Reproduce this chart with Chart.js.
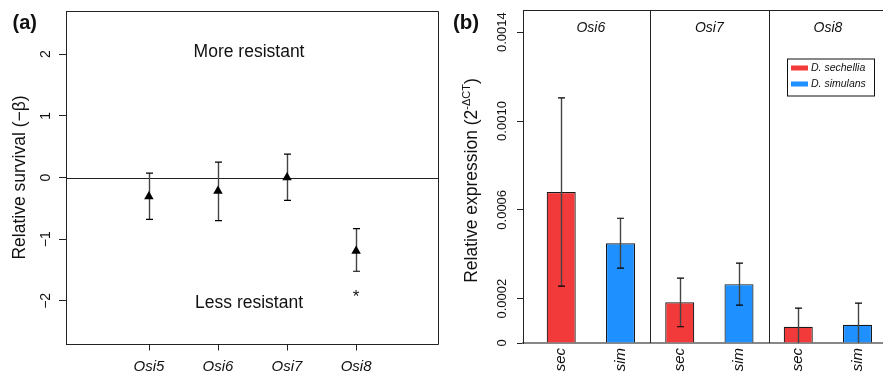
<!DOCTYPE html>
<html>
<head>
<meta charset="utf-8">
<script src="https://cdn.jsdelivr.net/npm/chart.js@4.4.1/dist/chart.umd.min.js"></script>
<style>
  html, body { margin: 0; padding: 0; background: #fff; }
  #wrap { position: relative; width: 883px; height: 372px; overflow: hidden; }
  #survivalChart { position: absolute; left: 0; top: 0; }
  #exprChart { position: absolute; left: 450px; top: 0; }
</style>
</head>
<body>
<div id="wrap">
  <canvas id="survivalChart" width="450" height="372"></canvas>
  <canvas id="exprChart" width="433" height="372"></canvas>
</div>
<script>
const fontFamily = '"Liberation Sans", Arial, Helvetica, sans-serif';
const ink = '#111';

// (a) relative survival
const survGenes = ['Osi5', 'Osi6', 'Osi7', 'Osi8'];
const survPos = [1, 2, 3, 4];
const survBeta = [-0.31, -0.22, 0.0, -1.19];
const survLow = [-0.68, -0.70, -0.37, -1.52];
const survHigh = [0.07, 0.25, 0.38, -0.83];
const survTicks = [-2, -1, 0, 1, 2];
const survMarks = ['', '', '', '*'];
const markY = -1.85;
const notes = ['More resistant', 'Less resistant'];
const notesY = [2.03, -2.03];
const notesX = 2.45;

// (b) relative expression
const exprGenes = ['Osi6', 'Osi7', 'Osi8'];
const species = ['D. sechellia', 'D. simulans'];
const speciesShort = ['sec', 'sim'];
const secPos = [1, 3, 5];
const simPos = [2, 4, 6];
const secMean = [0.000680, 0.000183, 0.0000733];
const secLow = [0.000256, 0.0000733, -0.00001];
const secHigh = [0.001104, 0.000292, 0.000157];
const simMean = [0.000449, 0.000265, 0.0000822];
const simLow = [0.000337, 0.000171, -0.000016];
const simHigh = [0.000562, 0.000360, 0.000180];
const exprTicks = [0, 0.0002, 0.0006, 0.0010, 0.0014];
const exprTickLabels = ['0', '0.0002', '0.0006', '0.0010', '0.0014'];

const red = '#F23A3A';
const blue = '#1E90FF';

function drawRotatedYTicks(chart, labels, centerX, size) {
  const { ctx } = chart;
  const s = chart.scales.y;
  ctx.save();
  ctx.font = size + 'px ' + fontFamily;
  ctx.fillStyle = ink;
  ctx.textAlign = 'center';
  ctx.textBaseline = 'middle';
  s.ticks.forEach((t, i) => {
    ctx.save();
    ctx.translate(centerX, s.getPixelForValue(t.value));
    ctx.rotate(-Math.PI / 2);
    ctx.fillText(labels[i], 0, 0);
    ctx.restore();
  });
  ctx.restore();
}

function drawErrorBars(chart, color, cap) {
  const { ctx, chartArea } = chart;
  const y = chart.scales.y;
  ctx.save();
  ctx.beginPath();
  ctx.rect(chartArea.left, chartArea.top, chartArea.right - chartArea.left, chartArea.bottom - chartArea.top);
  ctx.clip();
  chart.data.datasets.forEach((ds, di) => {
    const meta = chart.getDatasetMeta(di);
    meta.data.forEach((el, j) => {
      const x = Math.round(el.x) + 0.5;
      const lo = y.getPixelForValue(ds.errLow[j]);
      const hi = y.getPixelForValue(ds.errHigh[j]);
      ctx.strokeStyle = color;
      ctx.lineWidth = 1.4;
      ctx.beginPath();
      ctx.moveTo(x, lo);
      ctx.lineTo(x, hi);
      ctx.stroke();
      ctx.strokeStyle = '#000';
      ctx.lineWidth = 1.2;
      ctx.beginPath();
      ctx.moveTo(x - cap, hi); ctx.lineTo(x + cap, hi);
      ctx.moveTo(x - cap, lo); ctx.lineTo(x + cap, lo);
      ctx.stroke();
    });
  });
  ctx.restore();
}

const survivalDecor = {
  id: 'survivalDecor',
  beforeDatasetsDraw(chart) {
    const { ctx, chartArea } = chart;
    const zero = Math.round(chart.scales.y.getPixelForValue(0)) + 0.5;
    ctx.save();
    ctx.strokeStyle = '#222';
    ctx.lineWidth = 1;
    ctx.beginPath();
    ctx.moveTo(chartArea.left, zero);
    ctx.lineTo(chartArea.right, zero);
    ctx.stroke();
    ctx.restore();
    drawErrorBars(chart, '#444', 3.5);
  },
  afterDraw(chart) {
    const { ctx, chartArea } = chart;
    const x = chart.scales.x, y = chart.scales.y;
    ctx.save();
    ctx.strokeStyle = '#222';
    ctx.lineWidth = 1;
    // box (top, right, bottom) and x tick marks
    const l = Math.round(chartArea.left);
    const r = Math.round(chartArea.right) - 0.5;
    const t = Math.round(chartArea.top) + 0.5;
    const b = Math.round(chartArea.bottom) + 0.5;
    ctx.beginPath();
    ctx.moveTo(l, t);
    ctx.lineTo(r, t);
    ctx.lineTo(r, b);
    ctx.lineTo(l, b);
    survPos.forEach(p => {
      const px = Math.round(x.getPixelForValue(p)) + 0.5;
      ctx.moveTo(px, b);
      ctx.lineTo(px, b + 6);
    });
    ctx.stroke();

    ctx.fillStyle = ink;
    ctx.font = '17.5px ' + fontFamily;
    ctx.textAlign = 'center';
    ctx.textBaseline = 'middle';
    notes.forEach((txt, i) => ctx.fillText(txt, x.getPixelForValue(notesX), y.getPixelForValue(notesY[i])));

    ctx.textBaseline = 'alphabetic';
    ctx.font = '17px ' + fontFamily;
    survMarks.forEach((m, i) => {
      if (m) ctx.fillText(m, x.getPixelForValue(survPos[i]), y.getPixelForValue(markY) + 10);
    });

    ctx.font = 'bold 20px ' + fontFamily;
    ctx.textAlign = 'left';
    ctx.textBaseline = 'middle';
    ctx.fillText('(a)', 12.5, 23);
    ctx.restore();

    drawRotatedYTicks(chart, survTicks.map(v => v < 0 ? '\u2212' + Math.abs(v) : String(v)), 46.5, 14);
  }
};

new Chart(document.getElementById('survivalChart'), {
  type: 'scatter',
  data: {
    datasets: [{
      label: 'Relative survival',
      data: survPos.map((p, i) => ({ x: p, y: survBeta[i] })),
      errLow: survLow,
      errHigh: survHigh,
      pointStyle: 'triangle',
      pointRadius: 5.5,
      backgroundColor: '#000',
      borderColor: '#000',
      borderWidth: 0
    }]
  },
  options: {
    responsive: false,
    animation: false,
    layout: { padding: { top: 11, right: 11, left: 0, bottom: 0 } },
    plugins: { legend: { display: false }, tooltip: { enabled: false } },
    scales: {
      x: {
        type: 'linear',
        min: -0.2,
        max: 5.2,
        afterBuildTicks: s => { s.ticks = survPos.map(v => ({ value: v })); },
        afterFit: s => { s.height = 28; },
        grid: { display: false, tickLength: 6 },
        border: { display: false },
        ticks: {
          callback: v => survGenes[survPos.indexOf(v)],
          font: { family: fontFamily, size: 15, style: 'italic' },
          color: ink,
          padding: 8,
          maxRotation: 0,
          autoSkip: false
        }
      },
      y: {
        min: -2.7,
        max: 2.7,
        afterBuildTicks: s => { s.ticks = survTicks.map(v => ({ value: v })); },
        afterFit: s => { s.width = 66; },
        grid: { drawOnChartArea: false, tickLength: 7, color: '#222' },
        border: { color: '#222', width: 1 },
        ticks: { display: false },
        title: {
          display: true,
          text: 'Relative survival (\u2212\u03b2)',
          font: { family: fontFamily, size: 17.5 },
          color: ink,
          padding: { top: 10, bottom: 0 }
        }
      }
    }
  },
  plugins: [survivalDecor]
});

const exprDecor = {
  id: 'exprDecor',
  afterDatasetsDraw(chart) {
    drawErrorBars(chart, '#444', 3.5);
  },
  afterDraw(chart) {
    const { ctx, chartArea } = chart;
    const x = chart.scales.x;
    ctx.save();
    ctx.strokeStyle = '#222';
    ctx.lineWidth = 1;
    // top border and facet separators
    ctx.beginPath();
    ctx.moveTo(chartArea.left, chartArea.top + 0.5);
    ctx.lineTo(chartArea.right, chartArea.top + 0.5);
    for (let i = 0; i < exprGenes.length - 1; i++) {
      const sx = Math.round(x.getPixelForValue((simPos[i] + secPos[i + 1]) / 2)) + 0.5;
      ctx.moveTo(sx, chartArea.top);
      ctx.lineTo(sx, chartArea.bottom);
    }
    ctx.stroke();

    // facet titles
    ctx.fillStyle = ink;
    ctx.font = 'italic 14px ' + fontFamily;
    ctx.textAlign = 'center';
    ctx.textBaseline = 'middle';
    exprGenes.forEach((g, i) => ctx.fillText(g, x.getPixelForValue((secPos[i] + simPos[i]) / 2), chartArea.top + 18));

    // rotated category labels
    ctx.font = 'italic 15px ' + fontFamily;
    ctx.textAlign = 'right';
    x.ticks.forEach(t => {
      const lbl = secPos.includes(t.value) ? speciesShort[0] : speciesShort[1];
      ctx.save();
      ctx.translate(x.getPixelForValue(t.value), chartArea.bottom + 5);
      ctx.rotate(-Math.PI / 2);
      ctx.fillText(lbl, 0, 0);
      ctx.restore();
    });

    // legend
    const lx = 337, ly = 58.5, lw = 87, lh = 37;
    ctx.fillStyle = '#fff';
    ctx.fillRect(lx, ly, lw, lh);
    ctx.strokeStyle = '#111';
    ctx.strokeRect(lx + 0.5, ly + 0.5, lw, lh);
    ctx.font = 'italic 10.5px ' + fontFamily;
    ctx.textAlign = 'left';
    chart.data.datasets.forEach((ds, i) => {
      const cy = ly + 9.5 + i * 16;
      ctx.fillStyle = ds.backgroundColor;
      ctx.fillRect(lx + 4, cy - 2.5, 17, 5);
      ctx.fillStyle = ink;
      ctx.fillText(ds.label, lx + 24, cy + 0.5);
    });

    // y-axis title with superscript
    const main = 'Relative expression (2', sup = '-\u0394CT', tail = ')';
    ctx.font = '17.5px ' + fontFamily;
    const w1 = ctx.measureText(main).width, w3 = ctx.measureText(tail).width;
    ctx.font = '11px ' + fontFamily;
    const w2 = ctx.measureText(sup).width;
    const x0 = -(w1 + w2 + w3) / 2;
    ctx.save();
    ctx.translate(20.5, (chartArea.top + chartArea.bottom) / 2 + 4);
    ctx.rotate(-Math.PI / 2);
    ctx.fillStyle = ink;
    ctx.textBaseline = 'alphabetic';
    ctx.font = '17.5px ' + fontFamily;
    ctx.fillText(main, x0, 6);
    ctx.font = '11px ' + fontFamily;
    ctx.fillText(sup, x0 + w1, -1);
    ctx.font = '17.5px ' + fontFamily;
    ctx.fillText(tail, x0 + w1 + w2, 6);
    ctx.restore();

    ctx.font = 'bold 20.5px ' + fontFamily;
    ctx.textAlign = 'left';
    ctx.textBaseline = 'middle';
    ctx.fillText('(b)', 3, 23);
    ctx.restore();

    drawRotatedYTicks(chart, exprTickLabels, 52.5, 13);
  }
};

new Chart(document.getElementById('exprChart'), {
  type: 'bar',
  data: {
    datasets: [
      {
        label: species[0],
        data: secPos.map((p, i) => ({ x: p, y: secMean[i] })),
        errLow: secLow,
        errHigh: secHigh,
        backgroundColor: red,
        borderColor: '#1a1a1a',
        borderWidth: 1.2,
        grouped: false,
        barPercentage: 0.49,
        categoryPercentage: 1
      },
      {
        label: species[1],
        data: simPos.map((p, i) => ({ x: p, y: simMean[i] })),
        errLow: simLow,
        errHigh: simHigh,
        backgroundColor: blue,
        borderColor: '#1a1a1a',
        borderWidth: 1.2,
        grouped: false,
        barPercentage: 0.49,
        categoryPercentage: 1
      }
    ]
  },
  options: {
    responsive: false,
    animation: false,
    layout: { padding: { top: 10, right: 0, left: 0, bottom: 0 } },
    plugins: { legend: { display: false }, tooltip: { enabled: false } },
    scales: {
      x: {
        type: 'linear',
        min: 0.355,
        max: 6.43,
        offset: false,
        afterBuildTicks: s => { s.ticks = secPos.concat(simPos).sort((a, b) => a - b).map(v => ({ value: v })); },
        afterFit: s => { s.height = 29; },
        grid: { drawOnChartArea: false, drawTicks: false, offset: false },
        border: { color: '#888', width: 2 },
        ticks: { display: false }
      },
      y: {
        min: 0,
        max: 0.0015,
        afterBuildTicks: s => { s.ticks = exprTicks.map(v => ({ value: v })); },
        afterFit: s => { s.width = 73; },
        grid: { drawOnChartArea: false, tickLength: 6, color: '#222' },
        border: { color: '#222', width: 1 },
        ticks: { display: false }
      }
    }
  },
  plugins: [exprDecor]
});
</script>
</body>
</html>
